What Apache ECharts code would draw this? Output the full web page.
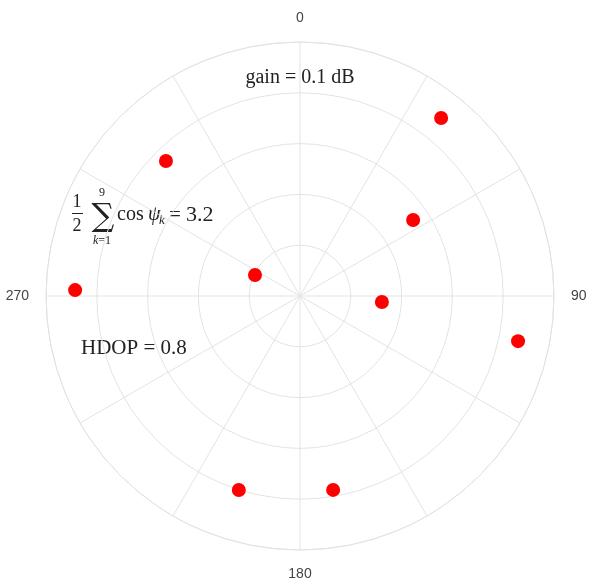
<!DOCTYPE html>
<html>
<head>
<meta charset="utf-8">
<script src="https://cdn.jsdelivr.net/npm/echarts@6/dist/echarts.min.js"></script>
<style>
  html, body { margin: 0; padding: 0; background: #fff; }
  #chart { width: 589px; height: 584px; }
</style>
</head>
<body>
<div id="chart"></div>
<script>
// satellite positions: azimuth (deg, clockwise from north) and zenith distance (deg)
const azimuth = [38.4, 315.2, 56.1, 295.0, 271.5, 94.2, 101.7, 197.5, 170.3];
const zenith = [80.5, 67.4, 48.3, 17.6, 79.7, 29.1, 78.9, 72.1, 69.7];
const angleTicks = [0, 90, 180, 270];

const gridColor = '#e3e3e3';
const textColor = '#222';
const mathFont = '"Liberation Serif", "DejaVu Serif", serif';
const sigmaFont = '"DejaVu Serif", serif';

const chart = echarts.init(document.getElementById('chart'));

// small helper for the annotation texts
function txt(x, y, text, font, align) {
  return {
    type: 'text', x: x, y: y,
    style: { text: text, font: font, fill: textColor, align: align || 'left', verticalAlign: 'middle' }
  };
}

chart.setOption({
  animation: false,
  polar: {
    center: [300, 296],
    radius: 254
  },
  angleAxis: {
    type: 'value',
    min: 0,
    max: 360,
    interval: 30,
    startAngle: 90,
    clockwise: true,
    axisLine: { show: true, lineStyle: { color: gridColor, width: 1 } },
    axisTick: { show: false },
    axisLabel: {
      margin: 17,
      color: '#444',
      fontSize: 14,
      fontFamily: 'Liberation Sans, Arial, sans-serif',
      formatter: v => (angleTicks.indexOf(v) >= 0 ? String(v) : '')
    },
    splitLine: { show: true, lineStyle: { color: gridColor, width: 1 } }
  },
  radiusAxis: {
    type: 'value',
    min: 0,
    max: 90,
    interval: 18,
    axisLine: { show: false },
    axisTick: { show: false },
    axisLabel: { show: false },
    splitLine: { show: true, lineStyle: { color: gridColor, width: 1 } }
  },
  series: [{
    type: 'scatter',
    coordinateSystem: 'polar',
    symbol: 'circle',
    symbolSize: 14,
    itemStyle: { color: '#ff0000', opacity: 1 },
    data: zenith.map((z, i) => [z, azimuth[i]])
  }],
  graphic: [
    txt(300, 78, 'gain = 0.1 dB', '20px ' + mathFont, 'center'),
    txt(81, 348, 'HDOP = 0.8', '21px ' + mathFont),
    // 1/2 sum_{k=1}^{9} cos psi_k = 3.2
    txt(77, 202, '1', '18px ' + mathFont, 'center'),
    { type: 'line', shape: { x1: 72, y1: 213.5, x2: 83, y2: 213.5 }, style: { stroke: textColor, lineWidth: 1 } },
    txt(77, 226, '2', '18px ' + mathFont, 'center'),
    txt(103, 218, '\u2211', '32px ' + sigmaFont, 'center'),
    txt(102, 193, '9', '12px ' + mathFont, 'center'),
    {
      type: 'text', x: 102, y: 241,
      style: {
        text: '{i|k}=1', font: '12px ' + mathFont, fill: textColor, align: 'center', verticalAlign: 'middle',
        rich: { i: { fontStyle: 'italic', fontFamily: mathFont, fontSize: 12, fill: textColor } }
      }
    },
    txt(117, 215, 'cos', '20px ' + mathFont),
    txt(148, 215, '\u03C8', 'italic 20px ' + mathFont),
    txt(159, 221, 'k', 'italic 13px ' + mathFont),
    txt(169, 215, '=', '21px ' + mathFont),
    txt(186, 215, '3.2', '22px ' + mathFont)
  ]
});
</script>
</body>
</html>
